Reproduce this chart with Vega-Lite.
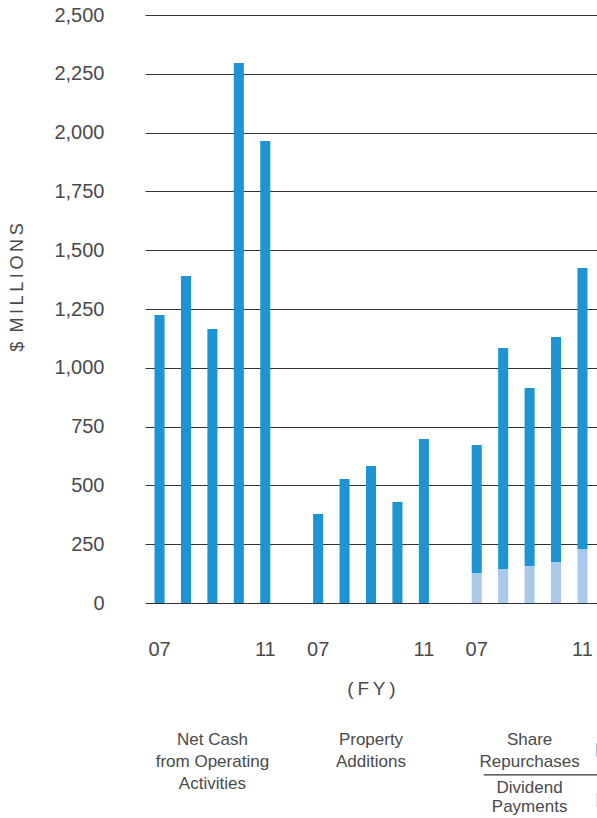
{
  "$schema": "https://vega.github.io/schema/vega-lite/v6.json",
  "width": 452,
  "height": 588,
  "autosize": {"type": "none"},
  "padding": {"left": 145, "top": 15, "right": 0, "bottom": 215},
  "background": "white",
  "config": {
    "view": {"stroke": null},
    "font": "Liberation Sans",
    "text": {"font": "Liberation Sans"}
  },
  "datasets": {
    "cashflow": [
      {"bar": "Net Cash 07", "series": "Net Cash from Operating Activities", "value": 1224},
      {"bar": "Net Cash 08", "series": "Net Cash from Operating Activities", "value": 1390},
      {"bar": "Net Cash 09", "series": "Net Cash from Operating Activities", "value": 1165},
      {"bar": "Net Cash 10", "series": "Net Cash from Operating Activities", "value": 2296},
      {"bar": "Net Cash 11", "series": "Net Cash from Operating Activities", "value": 1964},
      {"bar": "Property 07", "series": "Property Additions", "value": 378},
      {"bar": "Property 08", "series": "Property Additions", "value": 527},
      {"bar": "Property 09", "series": "Property Additions", "value": 582},
      {"bar": "Property 10", "series": "Property Additions", "value": 429},
      {"bar": "Property 11", "series": "Property Additions", "value": 697},
      {"bar": "Share 07", "series": "Dividend Payments", "value": 128},
      {"bar": "Share 08", "series": "Dividend Payments", "value": 145},
      {"bar": "Share 09", "series": "Dividend Payments", "value": 157},
      {"bar": "Share 10", "series": "Dividend Payments", "value": 174},
      {"bar": "Share 11", "series": "Dividend Payments", "value": 230},
      {"bar": "Share 07", "series": "Share Repurchases", "value": 544},
      {"bar": "Share 08", "series": "Share Repurchases", "value": 939},
      {"bar": "Share 09", "series": "Share Repurchases", "value": 757},
      {"bar": "Share 10", "series": "Share Repurchases", "value": 957},
      {"bar": "Share 11", "series": "Share Repurchases", "value": 1194}
    ],
    "groupLabels": [
      {"bar": "Net Cash 09", "label": "Net Cash\nfrom Operating\nActivities"},
      {"bar": "Property 09", "label": "Property\nAdditions"},
      {"bar": "Share 09", "label": "Share\nRepurchases"}
    ],
    "dividendLabel": [
      {"bar": "Share 09", "label": "Dividend\nPayments"}
    ]
  },
  "layer": [
    {
      "data": {"name": "cashflow"},
      "mark": {"type": "bar"},
      "encoding": {
        "x": {
          "field": "bar",
          "type": "nominal",
          "scale": {
            "domain": ["Net Cash 07", "Net Cash 08", "Net Cash 09", "Net Cash 10", "Net Cash 11", "gap a",
                       "Property 07", "Property 08", "Property 09", "Property 10", "Property 11", "gap b",
                       "Share 07", "Share 08", "Share 09", "Share 10", "Share 11"],
            "paddingInner": 0.62,
            "paddingOuter": 0.36
          },
          "axis": {
            "title": "(\u2009F\u2009Y\u2009)",
            "titleFont": "Liberation Sans",
            "titleFontSize": 19,
            "titleFontWeight": "normal",
            "titleColor": "#4a4a4a",
            "titleX": 226,
            "titleY": 85,
            "titleAlign": "center",
            "titleBaseline": "middle",
            "labelExpr": "slice(datum.value, -2) == '07' || slice(datum.value, -2) == '11' ? slice(datum.value, -2) : ''",
            "labelAngle": 0,
            "labelFont": "Liberation Sans",
            "labelFontSize": 20,
            "labelColor": "#4a4a4a",
            "labelPadding": 36,
            "ticks": false,
            "tickSize": 0,
            "domain": false,
            "grid": false
          }
        },
        "y": {
          "field": "value",
          "type": "quantitative",
          "stack": "zero",
          "scale": {"domain": [0, 2500], "nice": false, "zero": true},
          "axis": {
            "title": "$\u2002M\u2009I\u2009L\u2009L\u2009I\u2009O\u2009N\u2009S",
            "titleFont": "Liberation Sans",
            "titleFontSize": 18,
            "titleFontWeight": "normal",
            "titleColor": "#4a4a4a",
            "titleX": -128,
            "titleY": 272,
            "titleAlign": "center",
            "titleBaseline": "middle",
            "values": [0, 250, 500, 750, 1000, 1250, 1500, 1750, 2000, 2250, 2500],
            "format": ",.0f",
            "labelFont": "Liberation Sans",
            "labelFontSize": 20,
            "labelColor": "#4a4a4a",
            "labelPadding": 41,
            "ticks": false,
            "tickSize": 0,
            "domain": false,
            "grid": true,
            "gridColor": "#333333",
            "gridWidth": 1.2
          }
        },
        "color": {
          "field": "series",
          "type": "nominal",
          "scale": {
            "domain": ["Net Cash from Operating Activities", "Property Additions", "Share Repurchases", "Dividend Payments"],
            "range": ["#1e94d3", "#1e94d3", "#1e94d3", "#a9c9eb"]
          },
          "legend": null
        },
        "order": {"field": "series", "sort": "ascending"}
      }
    },
    {
      "data": {"name": "groupLabels"},
      "mark": {"type": "text", "lineBreak": "\n", "lineHeight": 22, "fontSize": 17, "color": "#4a4a4a", "align": "center", "baseline": "top"},
      "encoding": {
        "x": {"field": "bar", "type": "nominal", "bandPosition": 0.5},
        "y": {"datum": -547, "type": "quantitative"},
        "text": {"field": "label", "type": "nominal"}
      }
    },
    {
      "data": {"name": "dividendLabel"},
      "mark": {"type": "text", "lineBreak": "\n", "lineHeight": 19, "fontSize": 17, "color": "#4a4a4a", "align": "center", "baseline": "top"},
      "encoding": {
        "x": {"field": "bar", "type": "nominal", "bandPosition": 0.5},
        "y": {"datum": -752, "type": "quantitative"},
        "text": {"field": "label", "type": "nominal"}
      }
    },
    {
      "data": {"values": [{}]},
      "mark": {"type": "rule", "color": "#333333", "strokeWidth": 1.2},
      "encoding": {
        "x": {"datum": "Share 07", "type": "nominal", "bandPosition": 1.2},
        "x2": {"datum": "Share 11", "bandPosition": 3},
        "y": {"datum": -731, "type": "quantitative"}
      }
    },
    {
      "data": {"values": [{}]},
      "mark": {"type": "point", "shape": "square", "filled": true, "size": 196, "opacity": 1, "color": "#1e94d3"},
      "encoding": {
        "x": {"datum": "Share 11", "type": "nominal", "bandPosition": 2.6},
        "y": {"datum": -625, "type": "quantitative"}
      }
    },
    {
      "data": {"values": [{}]},
      "mark": {"type": "point", "shape": "square", "filled": true, "size": 196, "opacity": 1, "color": "#a9c9eb"},
      "encoding": {
        "x": {"datum": "Share 11", "type": "nominal", "bandPosition": 2.6},
        "y": {"datum": -838, "type": "quantitative"}
      }
    }
  ]
}
